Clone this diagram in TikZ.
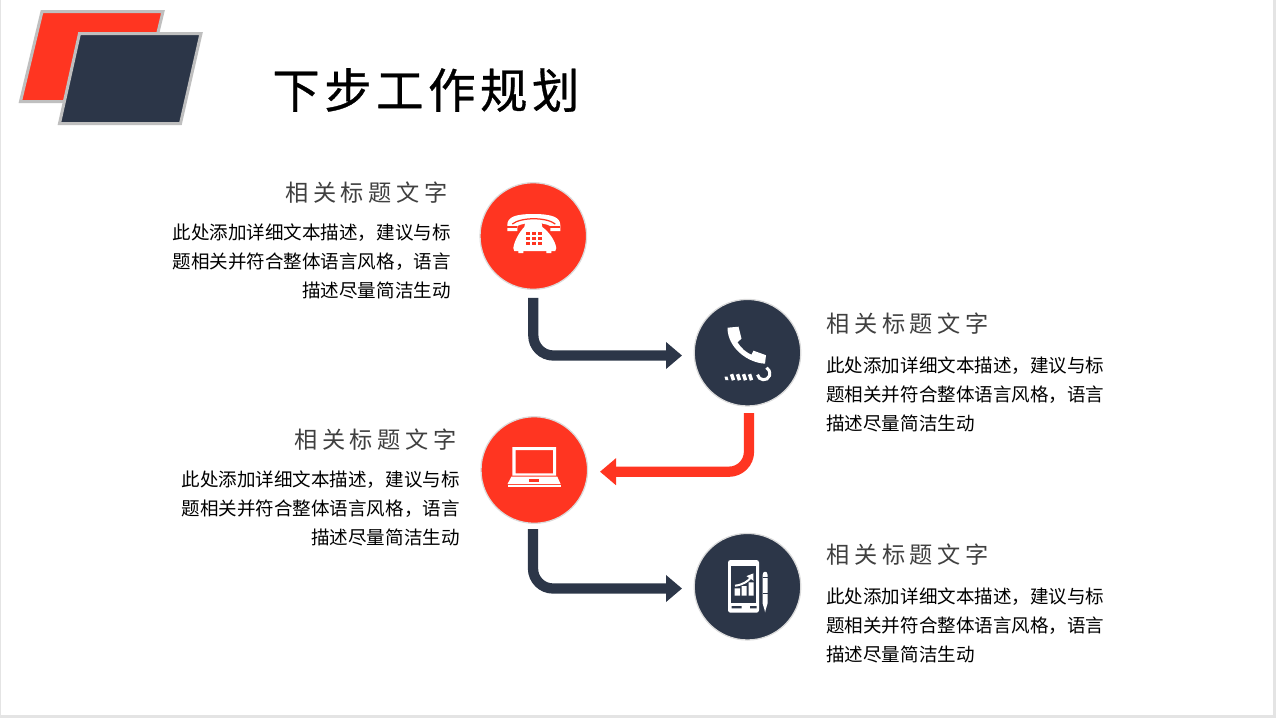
\documentclass[tikz,border=0pt]{standalone}
\usepackage{fontspec}
\usetikzlibrary{arrows.meta}
\newfontfamily\titlefont[LetterSpace=9.5,FakeBold=0.7]{Noto Sans CJK SC}
\newfontfamily\headfont[LetterSpace=20]{Noto Sans CJK SC}
\newfontfamily\bodyfont{Noto Sans CJK SC}
\definecolor{alertred}{HTML}{FF3521}
\definecolor{navy}{HTML}{2C3648}
\definecolor{slideedge}{HTML}{E4E4E4}
\definecolor{logoedge}{HTML}{BFBFBF}

\begin{document}
\begin{tikzpicture}[x=0.02cm,y=-0.02cm]
\tikzset{
  badge/.style={circle,minimum size=2.132cm,inner sep=0pt,draw=black!14,line width=0.025cm},
  flowline/.style={line width=0.205cm,rounded corners=0.4cm,-{Triangle[length=0.32cm,width=0.52cm]}},
  logoshape/.style={draw=logoedge,line width=0.06cm},
  headtext/.style={inner sep=0pt,text=black!75,font=\headfont\fontsize{13.2}{16}\selectfont},
  bodytext/.style={inner sep=0pt,text=black,font=\bodyfont\fontsize{10.55}{16.5}\selectfont},
}
\useasboundingbox (0,0) rectangle (1276,718);
\fill[slideedge] (0,0) rectangle (1276,718);
\fill[white] (1,0) rectangle (1273,715);

% logo
\draw[logoshape,fill=alertred] (42,11.5) -- (163,11.5) -- (141.5,101.5) -- (20.5,101.5) -- cycle;
\draw[logoshape,fill=navy] (79.5,33.5) -- (201,33.5) -- (180.5,123.5) -- (59.5,123.5) -- cycle;
\node[inner sep=0pt,anchor=west,font=\titlefont\fontsize{27}{32}\selectfont] (pagetitle) at (272,90) {下步工作规划};

% badges
\node[badge,fill=alertred] (telA) at (533.3,236) {};
\node[badge,fill=navy] (telB) at (747.5,352.7) {};
\node[badge,fill=alertred] (laptopC) at (534.3,470) {};
\node[badge,fill=navy] (tabletD) at (747.5,586.7) {};

% arrows
\coordinate (tipB) at (682,355.5);
\coordinate (startC) at (749,406);
\coordinate (tipC) at (600,471.7);
\coordinate (startD) at (533,523);
\coordinate (tipD) at (682,588.5);
\draw[flowline,navy,shorten <=0.16cm] (telA.south) |- (tipB);
\draw[flowline,alertred,shorten <=0.14cm] (startC) |- (tipC);
\draw[flowline,navy,shorten <=0.12cm] (startD) |- (tipD);

% desk telephone
\begin{scope}[shift={(telA.center)}]
\fill[white] (-26,-5) -- (-26,-11) .. controls (-26,-19) and (-18,-22) .. (0,-22) .. controls (18,-22) and (27,-19) .. (27,-11) -- (27,-5) -- (17,-5) -- (17,-10) .. controls (10,-14) and (-9,-14) .. (-16,-10) -- (-16,-5) -- cycle;
\draw[alertred,line width=0.025cm] (-21,-12) .. controls (-12,-19) and (13,-19) .. (22,-12);
\draw[alertred,line width=0.025cm] (-26,-9) -- (-16,-9) (17,-9) -- (27,-9);
\fill[white] (-8,-14) -- (8,-14) -- (9,-9) .. controls (16,-4) and (22,5) .. (23,12) -- (22,15) -- (18,15) -- (18,17) -- (13,17) -- (13,15) -- (-10,15) -- (-10,17) -- (-15,17) -- (-15,15) -- (-19,15) -- (-20,12) .. controls (-19,5) and (-14,-4) .. (-9,-9) -- cycle;
\foreach \kx in {-7,-1,5}
  \foreach \ky in {-4,1,6}
    \fill[alertred] (\kx,\ky) rectangle (\kx+3.4,\ky+3);
\end{scope}

% handset with cord
\begin{scope}[shift={(telB.center)}]
\fill[white] (-20,-25) -- (-9,-26) -- (-6,-14) -- (-10,-10.5) .. controls (-7,-5) and (-1,0) .. (4,2) -- (6,-2) -- (18.5,2.5) -- (17.5,11) .. controls (0,10) and (-20,-5) .. cycle;
\foreach \cx in {-16,-10,-4,2}
  \draw[white,line width=0.07cm] (\cx,21.5) -- (\cx+2,27.5);
\fill[white] (-23,24) -- (-20,24) -- (-19,27.5) -- (-22,27.5) -- cycle;
\draw[white,line width=0.06cm] (10,22) .. controls (11,28) and (20,29) .. (22,23) .. controls (23,19) and (21,16) .. (19,15);
\end{scope}

% laptop
\begin{scope}[shift={(laptopC.center)}]
\fill[white,even odd rule] (-22,-23) rectangle (21.7,5.7) (-18.7,-20) rectangle (18.7,3.3);
\fill[white] (-23,6.7) -- (23,6.7) -- (26.3,14) -- (-26.7,14) -- cycle;
\fill[white] (-26.7,15) rectangle (26.3,16.7);
\fill[alertred] (-5,9) rectangle (5,11.7);
\end{scope}

% tablet and pen
\begin{scope}[shift={(tabletD.center)}]
\fill[white,rounded corners=0.05cm] (-19.5,-26.7) rectangle (11.5,26);
\fill[navy] (-16.5,-21) rectangle (8.5,16.7);
\fill[navy] (-16,19.5) rectangle (-6,21.7) (2.5,19.5) rectangle (9,21.7);
\fill[white] (-13,1.7) rectangle (-7.5,9) (-6,-0.7) rectangle (-1,9) (1,-4.3) rectangle (6,9);
\draw[white,line width=0.04cm,-{Triangle[length=0.12cm,width=0.16cm]}] (-12.5,-1) .. controls (-4,-2) and (1,-6) .. (5.8,-13.3);
\fill[white] (15.2,-12) .. controls (15.2,-16) and (20,-16) .. (20,-12) -- (20,17) -- (18.2,23) -- (17.6,26) -- (17,23) -- (15.2,17) -- cycle;
\draw[navy,line width=0.015cm] (15.2,-9.5) -- (20,-9.5) (15.2,7) -- (20,7);
\end{scope}

% texts
\node[headtext,anchor=east] (headA) at (448,193) {相关标题文字};
\node[bodytext,anchor=east,align=right] (bodyA) at (451,261) {此处添加详细文本描述，建议与标\\题相关并符合整体语言风格，语言\\描述尽量简洁生动};
\node[headtext,anchor=west] (headB) at (826,324) {相关标题文字};
\node[bodytext,anchor=west,align=left] (bodyB) at (826,394) {此处添加详细文本描述，建议与标\\题相关并符合整体语言风格，语言\\描述尽量简洁生动};
\node[headtext,anchor=east] (headC) at (457,440) {相关标题文字};
\node[bodytext,anchor=east,align=right] (bodyC) at (460,508) {此处添加详细文本描述，建议与标\\题相关并符合整体语言风格，语言\\描述尽量简洁生动};
\node[headtext,anchor=west] (headD) at (826,555) {相关标题文字};
\node[bodytext,anchor=west,align=left] (bodyD) at (826,625) {此处添加详细文本描述，建议与标\\题相关并符合整体语言风格，语言\\描述尽量简洁生动};
\end{tikzpicture}
\end{document}
